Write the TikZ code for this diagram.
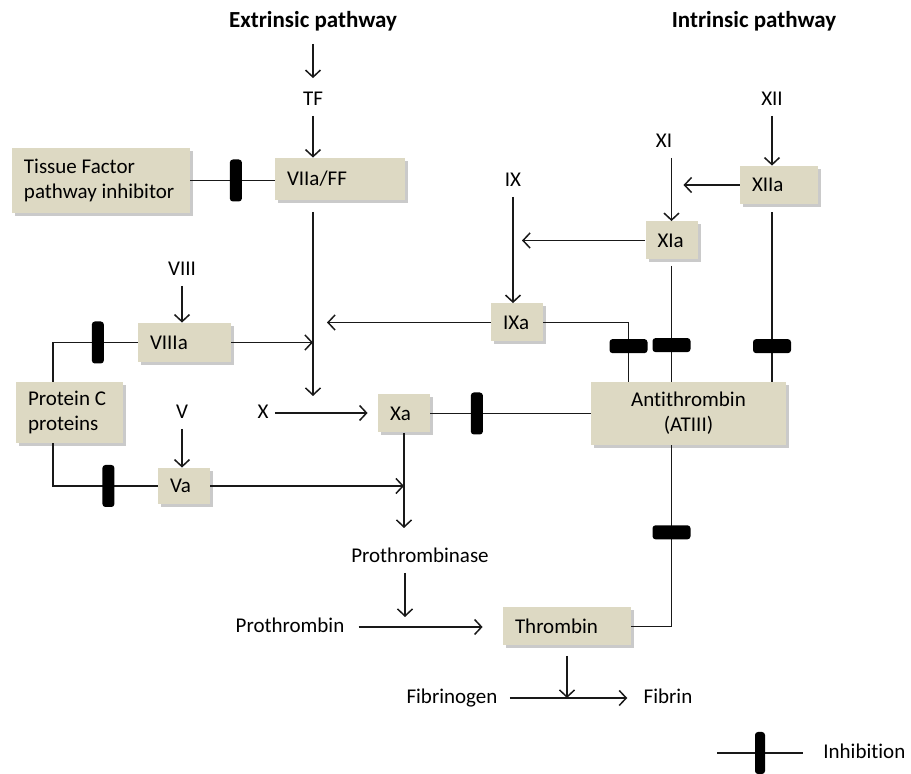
\documentclass[tikz,border=0pt]{standalone}
\usepackage{fontspec}
\setmainfont{Carlito}[Ligatures=NoCommon]
\usepackage{tikz}
\usetikzlibrary{shapes,arrows.meta,shadows,calc}
\usetikzlibrary{positioning}
\definecolor{clrBox}{HTML}{DDD9C3}
\definecolor{clrLine}{rgb}{0.1,0.1,0.1}
\tikzstyle{box_style}=[fill=clrBox, anchor=center, align=flush left, inner xsep=6pt, inner ysep=0pt,
drop shadow={shadow xshift=1.5pt, shadow yshift=-1.5pt, fill=black!60, opacity=0.35}]
\tikzstyle{factor}=[box_style, text width=14pt, minimum height=19pt]
\tikzstyle{lbl}=[inner sep=3pt, text height=7.5pt, text depth=2pt]
\tikzstyle{myarrow}=[->, >={Straight Barb[length=3.5pt,width=7.5pt]}, line width=0.75pt, draw=clrLine]
\tikzstyle{line}=[line width=0.75pt, draw=clrLine]
\tikzstyle{bar_v}=[fill=black, rounded corners=1.5pt, minimum width=6pt, minimum height=21pt, inner sep=0pt]
\tikzstyle{bar_h}=[bar_v, minimum width=19pt, minimum height=7pt]

\begin{document}
\begin{tikzpicture}[x=0.5pt, y=-0.5pt, font=\fontsize{10.5pt}{12.5pt}\selectfont]
	\useasboundingbox (0,0) rectangle (911,774);

	\node[lbl, font=\bfseries\fontsize{11.5pt}{14pt}\selectfont] (extr) at (313,22) {Extrinsic pathway};
	\node[lbl, font=\bfseries\fontsize{11.5pt}{14pt}\selectfont] (intr) at (754,22) {Intrinsic pathway};

	% extrinsic side
	\node[lbl] (tf) at (313,100) {TF};
	\draw[myarrow, shorten <=3pt, shorten >=3pt] (extr) -- (tf);

	\node[factor, text width=53pt, minimum height=21pt] (viia) at (340,179) {VIIa/FF};
	\draw[myarrow] (tf) -- (tf |- viia.north);

	\node[factor, text width=77pt, minimum height=32.5pt] (tfpi) at (101,180.5) {Tissue Factor\\pathway inhibitor};
	\draw[line] (tfpi.east) -- node[bar_v, pos=0.54] (tfpibar) {} (tfpi.east -| viia.west);

	\coordinate (trunk) at (313,212);
	\coordinate (xjoin) at (313,396);
	\draw[myarrow] (trunk) -- (xjoin);

	\node[lbl] (viii) at (182,270) {VIII};
	\node[factor, text width=34.5pt, minimum height=19.5pt] (viiia) at (184.5,342.5) {VIIIa};
	\draw[myarrow] (viii) -- (viii |- viiia.north);
	\draw[myarrow] (viiia) -- (viiia -| trunk);

	% intrinsic side
	\node[lbl] (ix) at (513,181) {IX};
	\node[factor] (ixa) at (517,322.5) {IXa};
	\draw[myarrow] (ix) -- (ix |- ixa.north);
	\draw[myarrow] (ixa) -- ([xshift=7pt]trunk |- ixa);

	\node[lbl] (xi) at (664,142) {XI};
	\node[factor] (xia) at (671.5,240.5) {XIa};
	\draw[myarrow] (xi.south -| xia) -- (xia.north);
	\draw[myarrow] (xia) -- ([xshift=4.5pt]ix |- xia);

	\node[lbl] (xii) at (772,100) {XII};
	\node[factor, text width=27pt] (xiia) at (779,185) {XIIa};
	\draw[myarrow] (xii) -- (xii |- xiia.north);
	\draw[myarrow] (xiia) -- ([xshift=6pt]xia |- xiia);

	\node[box_style, align=center, text width=85.5pt, minimum height=31.5pt] (at) at (688.5,413.5) {Antithrombin\\(ATIII)};
	\draw[line] (ixa) -| node[bar_h, pos=0.70] (ixbar) {} ([xshift=-30pt]at.north);
	\draw[line, shorten <=3pt] (xia) -- node[bar_h, pos=0.70] (xibar) {} (xia |- at.north);
	\draw[line, shorten <=4pt] (xiia.south -| xii) -- node[bar_h, pos=0.80] (xiibar) {} (xii |- at.north);

	% X / V
	\node[lbl] (xlbl) at (263,413) {X};
	\node[factor] (xa) at (404,413.5) {Xa};
	\draw[myarrow, shorten >=5pt] (xlbl) -- (xlbl -| xa.west);
	\draw[line] (at.west |- xa) -- node[bar_v, pos=0.71] (atbar) {} (xa.east);

	\node[lbl] (v) at (182,413) {V};
	\node[factor, minimum height=18pt] (va) at (184,486) {Va};
	\draw[myarrow] (v) -- (v |- va.north);
	\draw[myarrow] (va) -- (va -| xa);

	\coordinate (xadown) at (404,528);
	\draw[myarrow] (xa) -- (xadown);

	\node[factor, text width=41.5pt, minimum height=30.5pt] (protc) at (69.5,412.5) {Protein C\\proteins};
	\draw[line] ([xshift=-8.25pt]protc.north) |- node[bar_v, pos=0.765] (pcbar1) {} (viiia.west);
	\draw[line] ([xshift=-8.25pt]protc.south) |- node[bar_v, pos=0.765] (pcbar2) {} (va.west);

	% common pathway
	\node[lbl] (pthase) at (420,557) {Prothrombinase};
	\coordinate (pthjoin) at (405,617);
	\draw[myarrow] (pthase.south -| pthjoin) -- (pthjoin);

	\node[lbl] (pthrombin) at (290,627) {Prothrombin};
	\node[factor, text width=52pt] (thr) at (567,626.5) {Thrombin};
	\draw[myarrow, shorten <=4pt, shorten >=10pt] (pthrombin) -- (pthrombin -| thr.west);
	\draw[line] (thr) -| node[bar_h, pos=0.76] (thrbar) {} (xia |- at.south);

	\node[lbl] (fibgen) at (452,698) {Fibrinogen};
	\node[lbl] (fibrin) at (668,698) {Fibrin};
	\draw[myarrow, shorten <=3pt, shorten >=5pt] (fibgen) -- (fibgen -| fibrin.west);
	\coordinate (fibjoin) at (567,698);
	\draw[myarrow, shorten <=5pt] (thr) -- (fibjoin);

	% legend
	\coordinate (leg_a) at (717,753);
	\coordinate (leg_b) at (803,753);
	\draw[line] (leg_a) -- node[bar_v, minimum width=5pt] (legbar) {} (leg_b);
	\node[lbl, anchor=west] (leg_txt) at (817,753) {Inhibition};

\end{tikzpicture}
\end{document}
